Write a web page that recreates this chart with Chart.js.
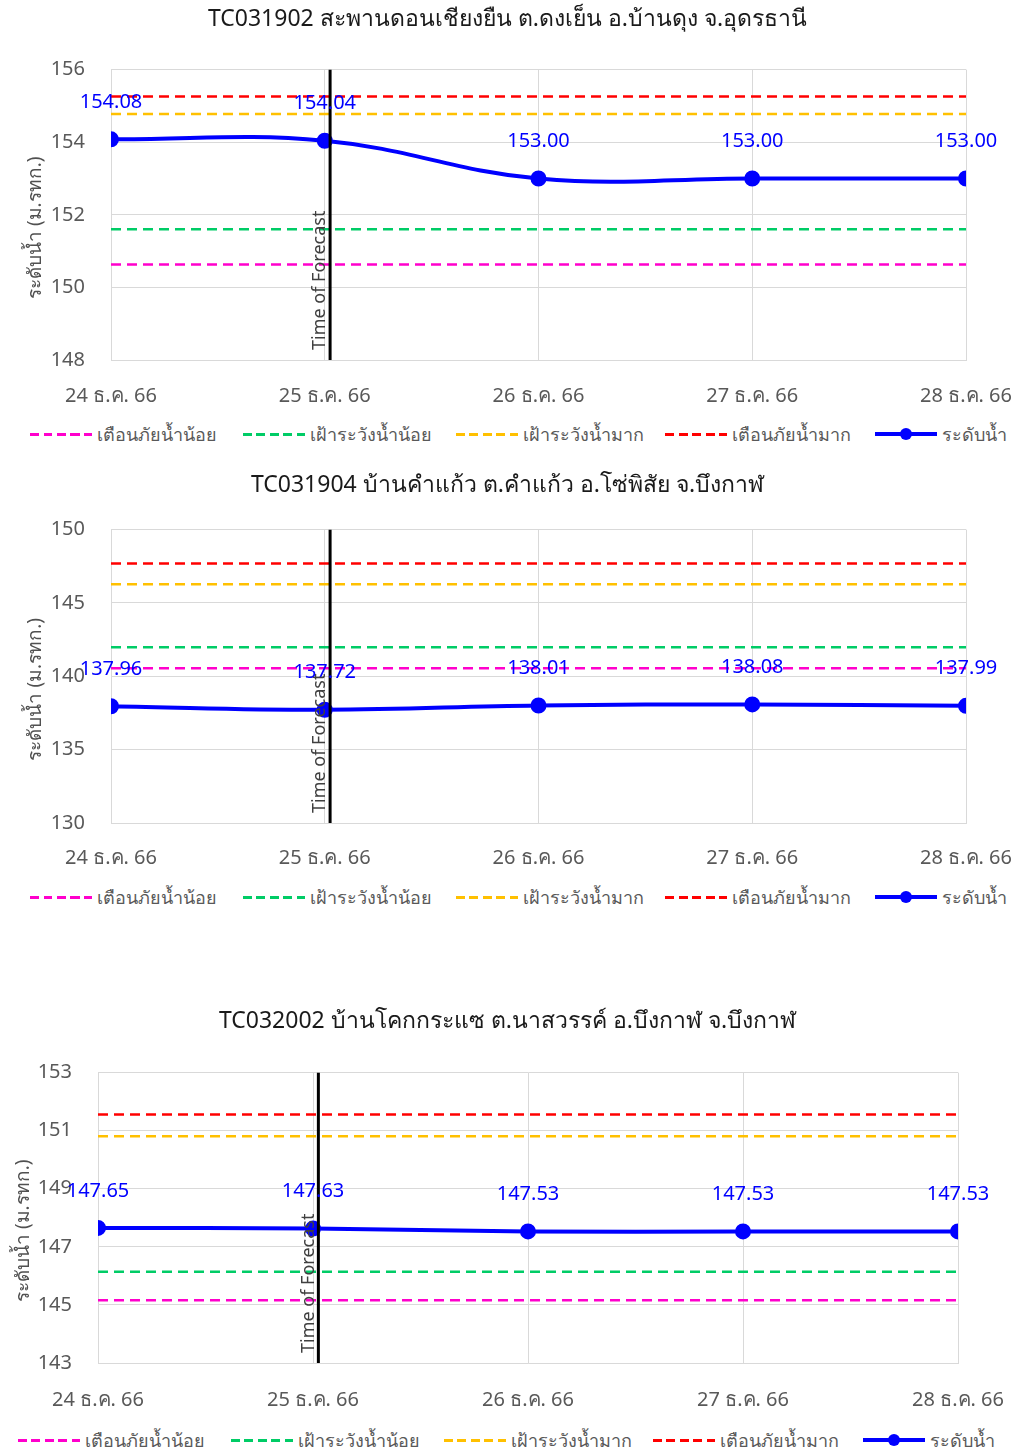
<!DOCTYPE html>
<html>
<head>
<meta charset="utf-8">
<script src="https://cdn.jsdelivr.net/npm/chart.js@4.4.1/dist/chart.umd.min.js"></script>
<style>
    body { margin: 0; width: 1015px; height: 1451px; background: #fff; position: relative; overflow: hidden;
           font-family: Tahoma, "Noto Sans", "DejaVu Sans", sans-serif; }
    .block { position: absolute; left: 0; width: 1015px; }
    .legend { position: absolute; left: 0; width: 1015px; height: 24px; }
    .item { position: absolute; top: 0; height: 24px; display: flex; align-items: center; white-space: nowrap;
            font-size: 18px; color: #595959; }
    .dash { width: 62px; height: 3px; margin-right: 5px; }
    .solid { position: relative; width: 62px; height: 4px; margin-right: 5px; background: #0000ff; }
    .solid span { position: absolute; left: 25px; top: -4px; width: 12px; height: 12px; border-radius: 6px; background: #0000ff; }
</style>
</head>
<body>
<div id="blocks"></div>
<script>
// วันที่บนแกน x
var dates = ['24 ธ.ค. 66', '25 ธ.ค. 66', '26 ธ.ค. 66', '27 ธ.ค. 66', '28 ธ.ค. 66'];

var titles = [
    'TC031902 สะพานดอนเชียงยืน ต.ดงเย็น อ.บ้านดุง จ.อุดรธานี',
    'TC031904 บ้านคำแก้ว ต.คำแก้ว อ.โซ่พิสัย จ.บึงกาฬ',
    'TC032002 บ้านโคกกระแซ ต.นาสวรรค์ อ.บึงกาฬ จ.บึงกาฬ'
];

// ระดับน้ำ
var level1 = [154.08, 154.04, 153.00, 153.00, 153.00];
var level2 = [137.96, 137.72, 138.01, 138.08, 137.99];
var level3 = [147.65, 147.63, 147.53, 147.53, 147.53];

// เกณฑ์: เตือนภัยน้ำน้อย, เฝ้าระวังน้ำน้อย, เฝ้าระวังน้ำมาก, เตือนภัยน้ำมาก
var thresholds1 = [150.63, 151.60, 154.78, 155.26];
var thresholds2 = [140.55, 141.98, 146.27, 147.69];
var thresholds3 = [145.16, 146.14, 150.81, 151.56];

// ช่วงแกน y: min, max, step
var yRange1 = [148, 156, 2];
var yRange2 = [130, 150, 5];
var yRange3 = [143, 153, 2];

var forecastIndex = 1.025;

var thresholdNames = ['เตือนภัยน้ำน้อย', 'เฝ้าระวังน้ำน้อย', 'เฝ้าระวังน้ำมาก', 'เตือนภัยน้ำมาก'];
var levelName = 'ระดับน้ำ';
var yTitle = 'ระดับน้ำ (ม.รทก.)';
var thresholdColors = ['#ff00cc', '#00cc66', '#ffc000', '#ff0000'];

var App = App || {};

App.Charts = {

    font: 'Tahoma, "Noto Sans", "DejaVu Sans", sans-serif',

    labelsPlugin: {
        id: 'pointLabels',
        afterDatasetsDraw: function (chart) {
            var ctx = chart.ctx;
            var meta = chart.getDatasetMeta(4);
            var data = chart.data.datasets[4].data;
            ctx.save();
            ctx.font = '20px ' + App.Charts.font;
            ctx.fillStyle = '#0000ff';
            ctx.textAlign = 'center';
            ctx.textBaseline = 'middle';
            for (var i = 0; i < meta.data.length; i++) {
                var p = meta.data[i];
                ctx.fillText(data[i].y.toFixed(2), p.x, p.y - 37);
            }
            ctx.restore();
        }
    },

    forecastPlugin: {
        id: 'forecastText',
        afterDatasetsDraw: function (chart, args, opts) {
            var ctx = chart.ctx;
            var area = chart.chartArea;
            var x = chart.scales.x.getPixelForValue(forecastIndex);
            ctx.save();
            ctx.translate(x - 1, area.bottom - 10);
            ctx.rotate(-Math.PI / 2);
            ctx.font = '18px ' + App.Charts.font;
            ctx.fillStyle = '#404040';
            ctx.textAlign = 'left';
            ctx.textBaseline = 'bottom';
            ctx.fillText('Time of Forecast', 0, 0);
            ctx.restore();

            // ชื่อแกน y
            ctx.save();
            ctx.translate(opts.yTitleX, (area.top + area.bottom) / 2 + 13);
            ctx.rotate(-Math.PI / 2);
            ctx.font = '19px ' + App.Charts.font;
            ctx.fillStyle = '#505050';
            ctx.textAlign = 'center';
            ctx.textBaseline = 'middle';
            ctx.fillText(yTitle, 0, 0);
            ctx.restore();
        }
    },

    make: function (idx, level, thr, yr, lay) {
        var block = document.createElement('div');
        block.className = 'block';
        block.style.top = lay.top + 'px';
        block.style.height = (lay.plotBottom + 60) + 'px';
        var canvas = document.createElement('canvas');
        block.appendChild(canvas);
        document.getElementById('blocks').appendChild(block);

        var datasets = [];
        for (var i = 0; i < thr.length; i++) {
            datasets.push({
                label: thresholdNames[i],
                data: [{x: 0, y: thr[i]}, {x: 4, y: thr[i]}],
                borderColor: thresholdColors[i],
                borderWidth: 2.5,
                borderDash: [10, 6],
                pointRadius: 0,
                order: 2
            });
        }
        var pts = [];
        for (var j = 0; j < level.length; j++) {
            pts.push({x: j, y: level[j]});
        }
        datasets.push({
            label: levelName,
            data: pts,
            borderColor: '#0000ff',
            backgroundColor: '#0000ff',
            borderWidth: 4,
            pointRadius: 6,
            tension: 0.4,
            order: 1
        });
        datasets.push({
            label: 'Time of Forecast',
            data: [{x: forecastIndex, y: yr[0]}, {x: forecastIndex, y: yr[1]}],
            borderColor: '#000000',
            borderWidth: 3,
            pointRadius: 0,
            order: 0
        });

        var plotLeft = lay.plotLeft;
        var rightPad = 1015 - lay.plotRight;
        new Chart(canvas, {
            type: 'line',
            data: { datasets: datasets },
            options: {
                responsive: true,
                maintainAspectRatio: false,
                animation: false,
                layout: { padding: 0 },
                plugins: {
                    legend: { display: false },
                    tooltip: { enabled: false },
                    forecastText: { yTitleX: lay.yTitleX },
                    title: {
                        display: true,
                        text: titles[idx],
                        color: '#1a1a1a',
                        font: { size: 23, family: App.Charts.font, weight: 'normal', lineHeight: 1.2 },
                        padding: { top: lay.titleY - 14, bottom: lay.plotTop - lay.titleY - 14 }
                    }
                },
                scales: {
                    x: {
                        type: 'linear',
                        min: 0,
                        max: 4,
                        afterFit: function (s) {
                            s.height = 60;
                            s.paddingLeft = 0;
                            s.paddingRight = rightPad;
                        },
                        afterBuildTicks: function (s) {
                            s.ticks = [0, 1, 2, 3, 4].map(function (v) { return {value: v}; });
                        },
                        ticks: {
                            padding: lay.tickGap,
                            color: '#595959',
                            font: { size: 20, family: App.Charts.font },
                            maxRotation: 0,
                            callback: function (v) { return dates[v]; }
                        },
                        grid: { color: '#d9d9d9', drawTicks: false },
                        border: { color: '#d9d9d9' }
                    },
                    y: {
                        min: yr[0],
                        max: yr[1],
                        afterFit: function (s) { s.width = plotLeft; },
                        ticks: {
                            stepSize: yr[2],
                            padding: 26,
                            color: '#595959',
                            font: { size: 20, family: App.Charts.font }
                        },
                        grid: { color: '#d9d9d9', drawTicks: false },
                        border: { color: '#d9d9d9' }
                    }
                }
            },
            plugins: [App.Charts.labelsPlugin, App.Charts.forecastPlugin]
        });

        // legend แบบ HTML
        var legend = document.createElement('div');
        legend.className = 'legend';
        legend.style.top = (lay.legendY - 12) + 'px';
        var offsets = [0, 213, 426, 635, 845];
        for (var k = 0; k < 5; k++) {
            var item = document.createElement('div');
            item.className = 'item';
            item.style.left = (lay.legendX + offsets[k]) + 'px';
            var sample = document.createElement('div');
            if (k < 4) {
                sample.className = 'dash';
                sample.style.background = 'repeating-linear-gradient(90deg,' + thresholdColors[k] + ' 0 9px, transparent 9px 13.5px)';
            } else {
                sample.className = 'solid';
                sample.appendChild(document.createElement('span'));
            }
            item.appendChild(sample);
            var txt = document.createElement('span');
            txt.textContent = k < 4 ? thresholdNames[k] : levelName;
            item.appendChild(txt);
            legend.appendChild(item);
        }
        document.body.appendChild(legend);
    }
};

App.Charts.make(0, level1, thresholds1, yRange1,
    {top: 0, titleY: 20, plotTop: 70, plotBottom: 360, plotLeft: 111, plotRight: 966, tickGap: 24, yTitleX: 36, legendY: 434, legendX: 30});
App.Charts.make(1, level2, thresholds2, yRange2,
    {top: 465, titleY: 21, plotTop: 65, plotBottom: 358, plotLeft: 111, plotRight: 966, tickGap: 23, yTitleX: 36, legendY: 897, legendX: 30});
App.Charts.make(2, level3, thresholds3, yRange3,
    {top: 1000, titleY: 22, plotTop: 73, plotBottom: 363, plotLeft: 98, plotRight: 958, tickGap: 25, yTitleX: 24, legendY: 1440, legendX: 18});
</script>
</body>
</html>
